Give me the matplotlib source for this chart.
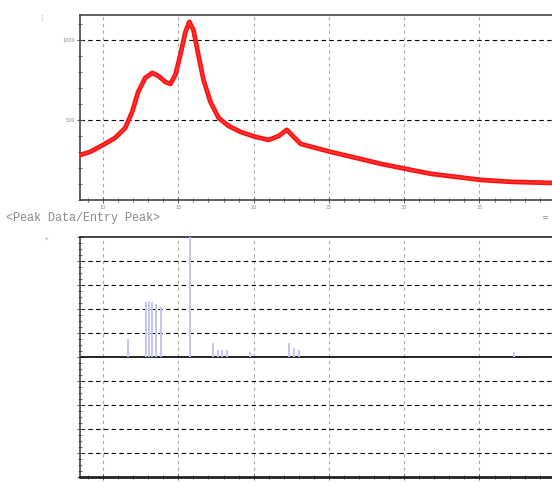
import numpy as np
import matplotlib.pyplot as plt
from matplotlib.ticker import MultipleLocator

# measured pattern (2theta, intensity)
two_theta = [8.47, 9.13, 10.0, 10.8, 11.47, 11.93, 12.33, 12.8, 13.27, 13.67,
             14.13, 14.47, 14.8, 15.13, 15.47, 15.73, 16.0, 16.33, 16.67, 17.13,
             17.67, 18.33, 19.13, 20.13, 21.0, 21.67, 22.2, 22.6, 23.13, 24.13,
             25.13, 26.8, 28.47, 30.13, 31.8, 33.47, 35.13, 37.13, 39.93]
intensity = [281, 300, 344, 388, 450, 550, 675, 763, 794, 775,
             738, 725, 781, 906, 1050, 1113, 1063, 906, 750, 613,
             513, 463, 425, 394, 375, 400, 438, 400, 350, 325,
             300, 263, 225, 194, 163, 144, 125, 113, 106]

# entry peaks (2theta, relative height)
peak_pos = [11.67, 12.87, 13.07, 13.27, 13.53, 13.87, 15.8, 17.27, 17.6, 17.93,
            18.2, 19.73, 22.33, 22.67, 23.0, 37.27]
peak_h = [0.75, 2.3, 2.35, 2.3, 2.2, 2.1, 5.2, 0.6, 0.3, 0.3,
          0.3, 0.2, 0.6, 0.4, 0.3, 0.2]

xgrid = [10, 15, 20, 25, 30, 35]

fig = plt.figure(figsize=(5.52, 4.83), dpi=100)
ax1 = fig.add_axes([0.145, 0.586, 0.86, 0.383])
ax2 = fig.add_axes([0.145, 0.012, 0.86, 0.497])

for ax in (ax1, ax2):
    ax.set_xlim(8.47, 40.0)
    ax.spines['right'].set_visible(False)
    for s in ('left', 'top', 'bottom'):
        ax.spines[s].set_color('#444444')
        ax.spines[s].set_linewidth(1.2)
    for xv in xgrid:
        ax.axvline(xv, color='#aaaaaa', ls=(0, (3, 3)), lw=0.8, zorder=1)
    ax.xaxis.set_major_locator(MultipleLocator(5))
    ax.xaxis.set_minor_locator(MultipleLocator(1))
    ax.tick_params(which='both', direction='inout', color='#555555',
                   labelcolor='#888888', labelsize=3.5, pad=1)
    ax.tick_params(which='major', length=5, width=0.7)
    ax.tick_params(which='minor', length=3, width=0.6)

# top panel
ax1.set_ylim(0, 1156)
ax1.set_yticks([500, 1000])
ax1.yaxis.set_minor_locator(MultipleLocator(100))
for yv in [500, 1000]:
    ax1.axhline(yv, color='black', ls=(0, (4, 3)), lw=0.8, zorder=1)
ax1.plot(two_theta, intensity, color='#ff1010', lw=3.4, zorder=3, solid_joinstyle='round')
ax1.plot(two_theta, intensity, color='#ff6060', lw=1.0, zorder=4, alpha=0.5)
ax1.set_xticks(xgrid)
ax1.set_xticklabels([str(v) for v in xgrid])

# bottom panel
ax2.set_ylim(-5, 5)
ax2.set_yticks(range(-5, 6))
ax2.yaxis.set_minor_locator(MultipleLocator(0.25))
ax2.set_yticklabels(['' for _ in range(11)])
for yv in range(-4, 5):
    if yv == 0:
        ax2.axhline(0, color='black', lw=1.2, zorder=2)
    else:
        ax2.axhline(yv, color='black', ls=(0, (4, 3)), lw=0.8, zorder=1)
ax2.spines['bottom'].set_linewidth(2.0)
ax2.spines['bottom'].set_color('#222222')
ax2.spines['top'].set_color('#222222')
ax2.vlines(peak_pos, 0, peak_h, color='#c4c4f4', lw=1.4, zorder=3)
ax2.set_xticklabels([])

fig.text(0.01, 0.549, '<Peak Data/Entry Peak>', fontsize=8.5, color='#888888',
         family='Liberation Mono', va='center')
fig.text(0.993, 0.549, '=', fontsize=6, color='#888888', ha='right', va='center')
fig.text(0.075, 0.957, '⁞', fontsize=6, color='#999999', ha='center')
fig.text(0.085, 0.50, '*', fontsize=5, color='#999999', ha='center')

fig.savefig('out.png', dpi=100)
